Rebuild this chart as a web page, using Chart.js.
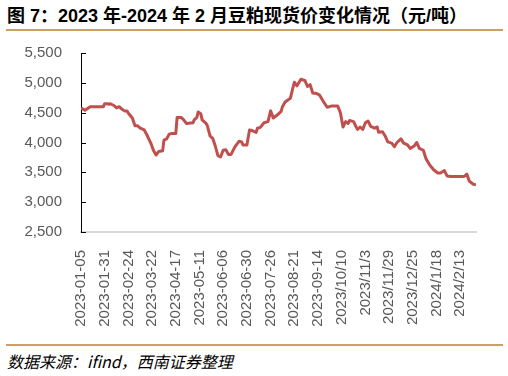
<!DOCTYPE html>
<html>
<head>
<meta charset="utf-8">
<script src="https://cdn.jsdelivr.net/npm/chart.js@4/dist/chart.umd.min.js"></script>
<style>
  body { margin: 0; background: #fff; }
  #wrap { position: relative; width: 508px; height: 376px; overflow: hidden; }
  .title { position: absolute; left: 7px; top: 1px; font: bold 18px "Liberation Sans", "Noto Sans CJK SC", sans-serif; color: #000; white-space: nowrap; }
  .rule { position: absolute; left: 6px; width: 497px; height: 2px; background: #C9A065; }
  .source { position: absolute; left: 7px; top: 349px; font: italic 16px "Noto Sans CJK SC", sans-serif; color: #000; white-space: nowrap; }
  #chart { position: absolute; left: 0; top: 32px; }
</style>
</head>
<body>
<div id="wrap">
  <div class="title">图 7：2023 年-2024 年 2 月豆粕现货价变化情况（元/吨）</div>
  <div class="rule" style="top:29px"></div>
  <canvas id="chart" width="508" height="310"></canvas>
  <div class="rule" style="top:344px"></div>
  <div class="source">数据来源：ifind，西南证券整理</div>
</div>
<script>
// x tick labels, one every 18 trading days
const tickLabels = ['2023-01-05', '2023-01-31', '2023-02-24', '2023-03-22', '2023-04-17',
    '2023-05-11', '2023-06-06', '2023-06-30', '2023-07-26', '2023-08-21', '2023-09-14',
    '2023/10/10', '2023/11/3', '2023/11/29', '2023/12/25', '2024/1/18', '2024/2/13'];
const tickStep = 18;
const lastDay = 300;

// trading-day index of each read point
const dayIndex = [0, 3, 7, 17, 18, 20, 21, 22, 25, 26,
    27, 29, 31, 33, 35, 36, 39, 41, 43, 45,
    48, 50, 53, 55, 57, 59, 62, 63, 65, 67,
    69, 72, 73, 76, 78, 80, 85, 86, 88, 89,
    91, 92, 95, 96, 98, 100, 102, 104, 106, 108,
    110, 112, 114, 117, 120, 122, 123, 126, 128, 130,
    133, 134, 136, 139, 142, 144, 146, 149, 152, 153,
    155, 159, 160, 162, 164, 167, 170, 172, 174, 176,
    179, 181, 184, 187, 190, 195, 197, 199, 201, 203,
    204, 207, 209, 210, 212, 214, 216, 218, 220, 223,
    225, 226, 229, 231, 233, 236, 238, 240, 243, 245,
    248, 250, 253, 255, 257, 260, 262, 265, 268, 271,
    273, 276, 278, 281, 291, 293, 295, 298, 300];

// soybean meal spot price (yuan/ton)
const price = [4580, 4540, 4600, 4600, 4650, 4650, 4640, 4650, 4620, 4600,
    4580, 4600, 4560, 4530, 4530, 4490, 4410, 4280, 4280, 4240,
    4210, 4130, 3990, 3870, 3790, 3850, 3860, 4040, 4060, 4140,
    4150, 4150, 4420, 4420, 4380, 4320, 4330, 4380, 4420, 4510,
    4480, 4380, 4320, 4280, 4110, 4070, 3940, 3780, 3760, 3870,
    3880, 3800, 3800, 3930, 4020, 4010, 3960, 3960, 4210, 4200,
    4170, 4240, 4250, 4330, 4350, 4530, 4410, 4460, 4520, 4600,
    4680, 4740, 4830, 5010, 4950, 5060, 5040, 4940, 4970, 4830,
    4820, 4800, 4690, 4590, 4610, 4610, 4500, 4260, 4350, 4320,
    4370, 4350, 4260, 4220, 4260, 4220, 4330, 4360, 4270, 4240,
    4260, 4170, 4180, 4110, 4010, 3990, 3930, 4000, 4060, 3990,
    3960, 3900, 3940, 4000, 3900, 3870, 3730, 3620, 3540, 3490,
    3490, 3530, 3440, 3430, 3430, 3470, 3350, 3300, 3290];

const points = dayIndex.map((d, i) => ({ x: d, y: price[i] }));

// small inward tick marks on the value axis
const innerTicks = {
    id: 'innerTicks',
    afterDraw(chart) {
        const ctx = chart.ctx;
        const y = chart.scales.y;
        const left = chart.chartArea.left;
        ctx.save();
        ctx.strokeStyle = '#000';
        ctx.lineWidth = 1;
        y.ticks.forEach(t => {
            const py = Math.round(y.getPixelForValue(t.value)) + 0.5;
            ctx.beginPath();
            ctx.moveTo(left, py);
            ctx.lineTo(left + 5, py);
            ctx.stroke();
        });
        ctx.restore();
    }
};

const tickFont = { family: '"Liberation Sans", sans-serif', size: 15 };

new Chart(document.getElementById('chart').getContext('2d'), {
    type: 'line',
    data: {
        datasets: [{
            data: points,
            borderColor: '#C0504D',
            borderWidth: 3,
            pointRadius: 0,
            tension: 0,
            borderJoinStyle: 'round'
        }]
    },
    options: {
        responsive: false,
        animation: false,
        devicePixelRatio: 1,
        layout: { padding: { top: 21, right: 32, left: 0, bottom: 0 } },
        plugins: {
            legend: { display: false },
            tooltip: { enabled: false }
        },
        scales: {
            x: {
                type: 'linear',
                min: 0,
                max: lastDay,
                grid: { display: false, drawTicks: false, tickLength: 0 },
                border: { color: '#D9D9D9', width: 2 },
                afterBuildTicks: s => {
                    s.ticks = tickLabels.map((_, i) => ({ value: i * tickStep }));
                },
                afterFit: s => {
                    s.height = 110;
                    s.paddingLeft = 0;
                    s.paddingRight = 0;
                },
                ticks: {
                    autoSkip: false,
                    minRotation: 90,
                    maxRotation: 90,
                    padding: 18,
                    color: '#595959',
                    font: tickFont,
                    callback: v => tickLabels[Math.round(v / tickStep)] || ''
                }
            },
            y: {
                min: 2500,
                max: 5500,
                grid: { display: false, drawTicks: false, tickLength: 0 },
                border: { color: '#000', width: 1 },
                afterFit: s => {
                    s.width = 81;
                    s.paddingTop = 0;
                    s.paddingBottom = 0;
                },
                ticks: {
                    stepSize: 500,
                    padding: 19,
                    color: '#595959',
                    font: tickFont,
                    callback: v => v.toLocaleString('en-US')
                }
            }
        }
    },
    plugins: [innerTicks]
});
</script>
</body>
</html>
